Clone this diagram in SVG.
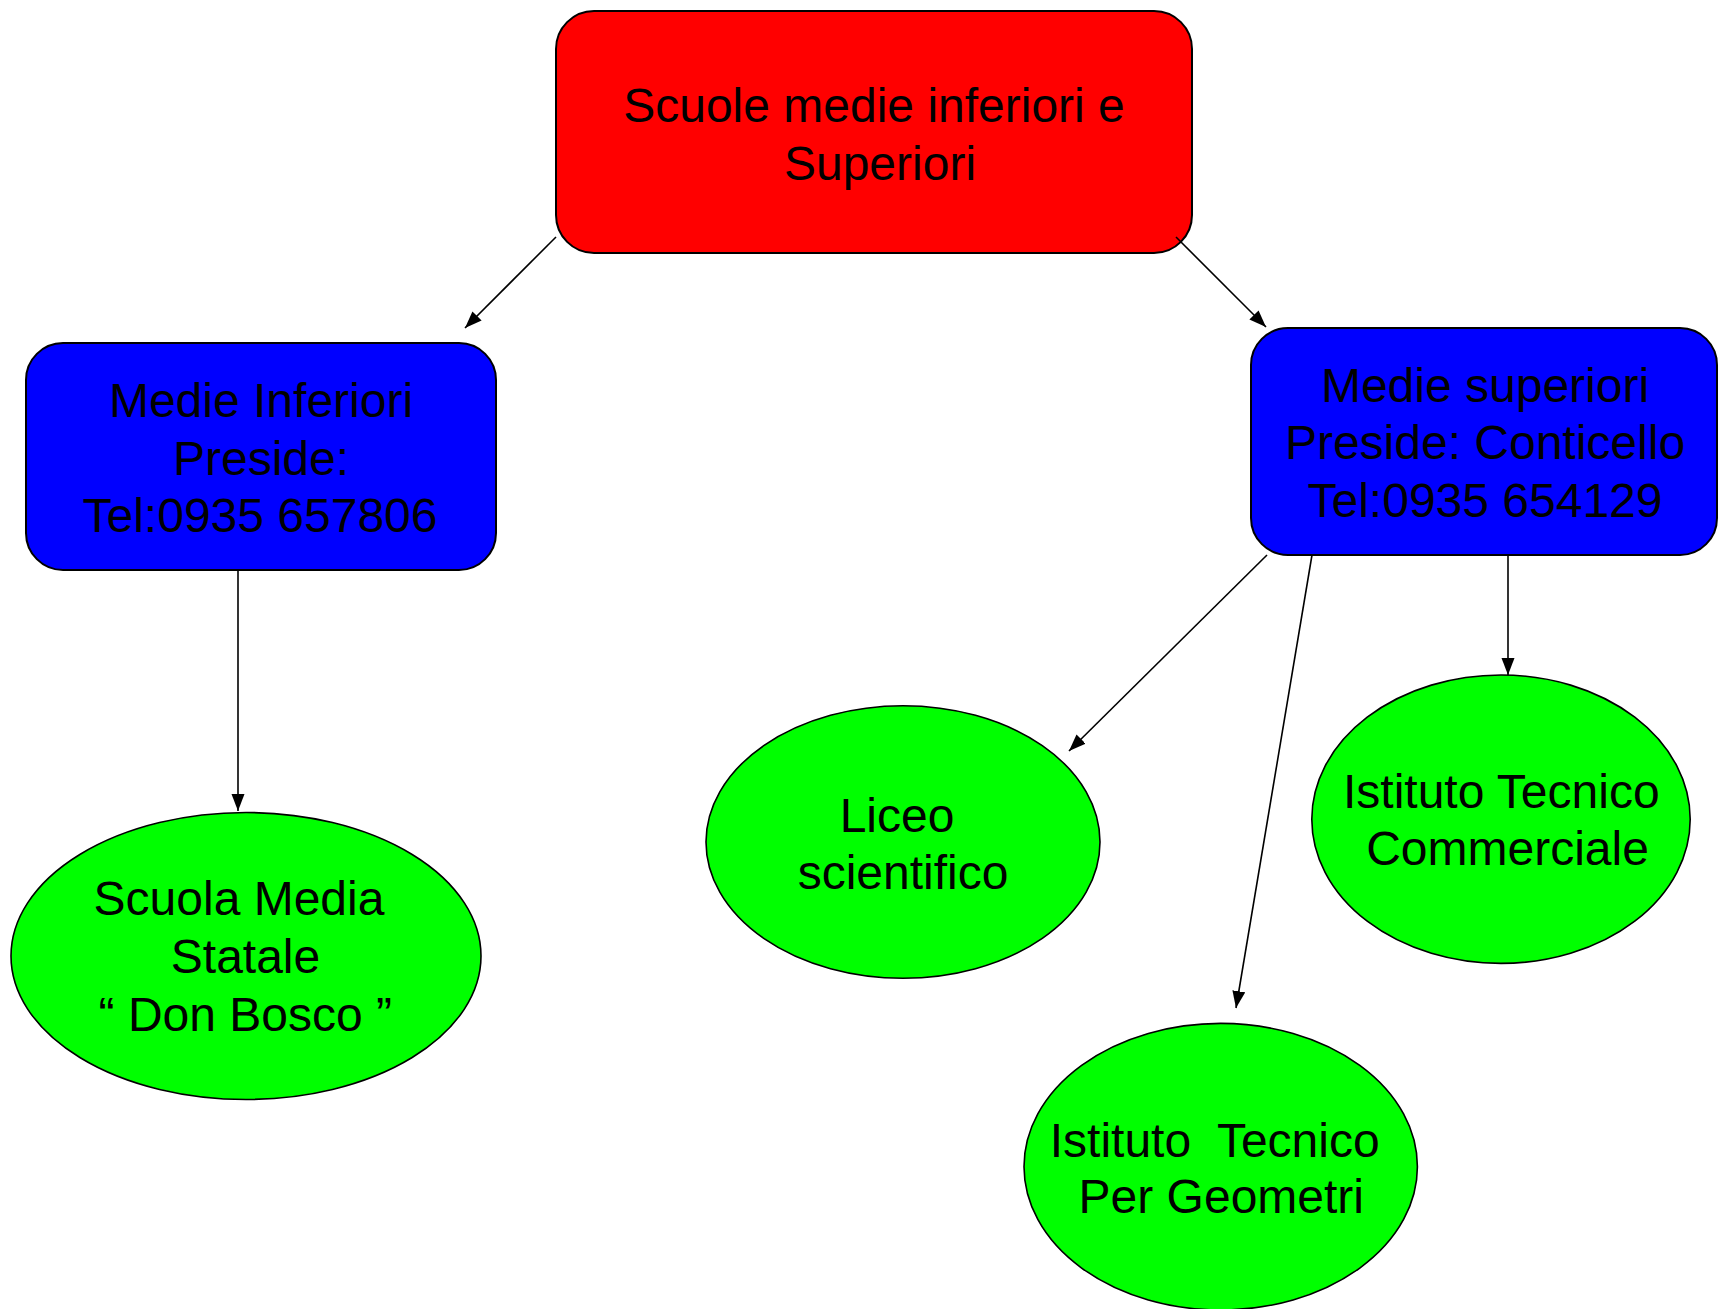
<svg xmlns="http://www.w3.org/2000/svg" width="1719" height="1309" viewBox="0 0 1719 1309">
<style>
  .box { stroke: #000; stroke-width: 2; }
  .ell { fill: #00ff00; stroke: #000; stroke-width: 1.6; }
  .lbl { font-family: "Liberation Sans", Arial, sans-serif; font-size: 48px; fill: #000; text-anchor: middle; white-space: pre; }
  .conn { stroke: #000; stroke-width: 1.6; fill: none; marker-end: url(#arrow); }
</style>
<defs>
  <marker id="arrow" markerUnits="userSpaceOnUse" markerWidth="18" markerHeight="14" refX="17" refY="6.5" orient="auto">
    <path d="M0,0 L17,6.5 L0,13 z" fill="#000"/>
  </marker>
</defs>
<rect width="1719" height="1309" fill="#fff"/>
<g id="root">
  <rect class="box" x="556" y="11" width="636" height="242" rx="38" ry="38" fill="#ff0000"/>
  <text class="lbl" x="874" y="122">Scuole medie inferiori e</text>
  <text class="lbl" x="880" y="179.6">Superiori</text>
</g>
<g id="medie-inferiori">
  <rect class="box" x="26" y="343" width="470" height="227" rx="37" ry="37" fill="#0000ff"/>
  <text class="lbl" x="261" y="417.3">Medie Inferiori</text>
  <text class="lbl" x="261" y="474.5">Preside:</text>
  <text class="lbl" x="260" y="532">Tel:0935 657806</text>
</g>
<g id="medie-superiori">
  <rect class="box" x="1251" y="328" width="466" height="227" rx="37" ry="37" fill="#0000ff"/>
  <text class="lbl" x="1485" y="401.7">Medie superiori</text>
  <text class="lbl" x="1485" y="459.3">Preside: Conticello</text>
  <text class="lbl" x="1485" y="517">Tel:0935 654129</text>
</g>
<g id="scuola-media">
  <ellipse class="ell" cx="246" cy="956" rx="235" ry="143.5"/>
  <text class="lbl" x="239" y="915">Scuola Media</text>
  <text class="lbl" x="245.5" y="973.3">Statale</text>
  <text class="lbl" x="245.3" y="1030.7">“ Don Bosco ”</text>
</g>
<g id="liceo">
  <ellipse class="ell" cx="903" cy="842" rx="197" ry="136.3"/>
  <text class="lbl" x="897" y="831.7">Liceo</text>
  <text class="lbl" x="903" y="889">scientifico</text>
</g>
<g id="commerciale">
  <ellipse class="ell" cx="1501" cy="819.2" rx="189.2" ry="144.2"/>
  <text class="lbl" x="1501.3" y="808.3">Istituto Tecnico</text>
  <text class="lbl" x="1507.5" y="865">Commerciale</text>
</g>
<g id="geometri">
  <ellipse class="ell" cx="1220.7" cy="1166.7" rx="196.7" ry="143.3"/>
  <text class="lbl" x="1214.7" y="1156.7">Istituto  Tecnico</text>
  <text class="lbl" x="1221.3" y="1213.3">Per Geometri</text>
</g>
<g id="connectors">
  <line class="conn" x1="556" y1="237" x2="465" y2="328"/>
  <line class="conn" x1="1176" y1="237" x2="1266" y2="327"/>
  <line class="conn" x1="238" y1="570" x2="238" y2="811"/>
  <line class="conn" x1="1267" y1="555" x2="1069" y2="751"/>
  <line class="conn" x1="1312" y1="555" x2="1236" y2="1008"/>
  <line class="conn" x1="1508" y1="555" x2="1508" y2="675"/>
</g>
</svg>
